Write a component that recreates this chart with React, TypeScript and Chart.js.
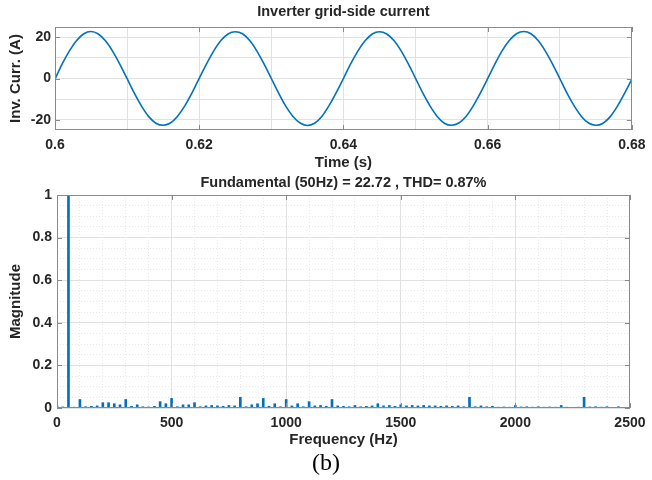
import React, { useEffect, useRef } from "react";
import { Chart, registerables } from "chart.js";

Chart.register(...registerables);

// ---------- Top plot data: inverter grid-side current ----------
const TIME_S = [
  0.600, 0.601, 0.602, 0.603, 0.604, 0.605, 0.606, 0.607, 0.608, 0.609,
  0.610, 0.611, 0.612, 0.613, 0.614, 0.615, 0.616, 0.617, 0.618, 0.619,
  0.620, 0.621, 0.622, 0.623, 0.624, 0.625, 0.626, 0.627, 0.628, 0.629,
  0.630, 0.631, 0.632, 0.633, 0.634, 0.635, 0.636, 0.637, 0.638, 0.639,
  0.640, 0.641, 0.642, 0.643, 0.644, 0.645, 0.646, 0.647, 0.648, 0.649,
  0.650, 0.651, 0.652, 0.653, 0.654, 0.655, 0.656, 0.657, 0.658, 0.659,
  0.660, 0.661, 0.662, 0.663, 0.664, 0.665, 0.666, 0.667, 0.668, 0.669,
  0.670, 0.671, 0.672, 0.673, 0.674, 0.675, 0.676, 0.677, 0.678, 0.679,
  0.680,
];
const CURRENT_A = [
  -0.3, 7.1, 13.4, 18.4, 21.7, 22.8, 21.6, 18.3, 13.2, 6.9,
  -0.1, -7.1, -13.4, -18.5, -21.7, -22.7, -21.6, -18.3, -13.3, -7.0,
  0.1, 7.0, 13.3, 18.4, 21.6, 22.7, 21.7, 18.4, 13.3, 7.0,
  0.0, -7.0, -13.4, -18.4, -21.6, -22.8, -21.7, -18.4, -13.2, -6.9,
  0.0, 7.1, 13.3, 18.3, 21.6, 22.7, 21.6, 18.4, 13.4, 7.1,
  0.1, -7.0, -13.3, -18.4, -21.7, -22.7, -21.6, -18.4, -13.3, -7.0,
  -0.1, 7.0, 13.4, 18.4, 21.7, 22.8, 21.7, 18.4, 13.3, 7.0,
  0.0, -7.1, -13.3, -18.4, -21.6, -22.7, -21.7, -18.5, -13.4, -7.1,
  -0.3,
];
const TIME_TICKS = [0.6, 0.61, 0.62, 0.63, 0.64, 0.65, 0.66, 0.67, 0.68];
const TIME_TICK_LABELS = ["0.6", "", "0.62", "", "0.64", "", "0.66", "", "0.68"];
const TIME_MAJOR = [0.6, 0.62, 0.64, 0.66, 0.68];
const CURRENT_TICKS = [-20, -10, 0, 10, 20];
const CURRENT_TICK_LABELS = ["-20", "", "0", "", "20"];
const CURRENT_MAJOR = [-20, 0, 20];

// ---------- Bottom plot data: FFT spectrum ----------
const FREQ_HZ = [
  0, 25, 50, 75, 100, 125, 150, 175, 200, 225,
  250, 275, 300, 325, 350, 375, 400, 425, 450, 475,
  500, 525, 550, 575, 600, 625, 650, 675, 700, 725,
  750, 775, 800, 825, 850, 875, 900, 925, 950, 975,
  1000, 1025, 1050, 1075, 1100, 1125, 1150, 1175, 1200, 1225,
  1250, 1275, 1300, 1325, 1350, 1375, 1400, 1425, 1450, 1475,
  1500, 1525, 1550, 1575, 1600, 1625, 1650, 1675, 1700, 1725,
  1750, 1775, 1800, 1825, 1850, 1875, 1900, 1925, 1950, 1975,
  2000, 2025, 2050, 2075, 2100, 2125, 2150, 2175, 2200, 2225,
  2250, 2275, 2300, 2325, 2350, 2375, 2400, 2425, 2450, 2475,
];
const MAGNITUDE = [
  0.010, 0.005, 1.000, 0.004, 0.040, 0.006, 0.008, 0.010, 0.025, 0.025,
  0.020, 0.015, 0.040, 0.008, 0.015, 0.006, 0.005, 0.008, 0.030, 0.020,
  0.045, 0.006, 0.015, 0.015, 0.025, 0.006, 0.010, 0.012, 0.010, 0.008,
  0.012, 0.010, 0.050, 0.006, 0.015, 0.020, 0.045, 0.008, 0.020, 0.006,
  0.040, 0.010, 0.020, 0.006, 0.030, 0.010, 0.012, 0.008, 0.040, 0.010,
  0.008, 0.006, 0.012, 0.006, 0.008, 0.010, 0.020, 0.010, 0.012, 0.008,
  0.015, 0.010, 0.012, 0.010, 0.012, 0.010, 0.010, 0.008, 0.010, 0.008,
  0.010, 0.006, 0.050, 0.006, 0.010, 0.006, 0.008, 0.004, 0.005, 0.004,
  0.012, 0.005, 0.006, 0.004, 0.006, 0.004, 0.005, 0.004, 0.012, 0.004,
  0.003, 0.004, 0.050, 0.005, 0.006, 0.004, 0.006, 0.003, 0.006, 0.002,
];
const FREQ_TICKS = [0, 500, 1000, 1500, 2000, 2500];
const FREQ_TICK_LABELS = ["0", "500", "1000", "1500", "2000", "2500"];
const FREQ_MINOR = [
  100, 200, 300, 400, 600, 700, 800, 900, 1100, 1200, 1300, 1400,
  1600, 1700, 1800, 1900, 2100, 2200, 2300, 2400,
];
const MAG_TICKS = [0, 0.2, 0.4, 0.6, 0.8, 1];
const MAG_TICK_LABELS = ["0", "0.2", "0.4", "0.6", "0.8", "1"];
const MAG_MINOR = [
  0.05, 0.1, 0.15, 0.25, 0.3, 0.35, 0.45, 0.5, 0.55, 0.65, 0.7, 0.75,
  0.85, 0.9, 0.95,
];

const FONT_FAMILY = '"Liberation Sans", Arial, Helvetica, sans-serif';
const TEXT_COLOR = "#262626";
const LINE_COLOR = "#0072BD";
const GRID_MAJOR = "#e1e1e1";
const GRID_MINOR = "#e8e8e8";
const BOX_COLOR = "#8a8a8a";

const labelFor = (ticks: number[], labels: string[]) => (v: number | string) => {
  const n = Number(v);
  const i = ticks.findIndex((t) => Math.abs(t - n) < 1e-9);
  return i >= 0 ? labels[i] : "";
};

const setTicks = (values: number[]) => (axis: any) => {
  axis.ticks = values.map((v) => ({ value: v }));
};

const boxPlugin = (xTicks: number[], yTicks: number[]) => ({
  id: "matlabBox",
  afterDatasetsDraw(chart: any) {
    const { ctx, chartArea: a, scales } = chart;
    ctx.save();
    ctx.strokeStyle = BOX_COLOR;
    ctx.lineWidth = 1;
    ctx.strokeRect(
      Math.round(a.left) + 0.5,
      Math.round(a.top) + 0.5,
      Math.round(a.right - a.left) - 1,
      Math.round(a.bottom - a.top) - 1
    );
    ctx.beginPath();
    for (const v of xTicks) {
      const px = Math.round(scales.x.getPixelForValue(v)) + 0.5;
      ctx.moveTo(px, a.bottom);
      ctx.lineTo(px, a.bottom - 5);
      ctx.moveTo(px, a.top);
      ctx.lineTo(px, a.top + 5);
    }
    for (const v of yTicks) {
      const py = Math.round(scales.y.getPixelForValue(v)) + 0.5;
      ctx.moveTo(a.left, py);
      ctx.lineTo(a.left + 5, py);
      ctx.moveTo(a.right, py);
      ctx.lineTo(a.right - 5, py);
    }
    ctx.stroke();
    ctx.restore();
  },
});

const tickFont = { family: FONT_FAMILY, size: 14, weight: "bold" as const };
const labelFont = { family: FONT_FAMILY, size: 15, weight: "bold" as const };
const titleFont = { family: FONT_FAMILY, size: 14.5, weight: "bold" as const };

export default function App() {
  const topRef = useRef<HTMLCanvasElement>(null);
  const botRef = useRef<HTMLCanvasElement>(null);

  useEffect(() => {
    Chart.defaults.font.family = FONT_FAMILY;
    Chart.defaults.color = TEXT_COLOR;

    const top = new Chart(topRef.current!, {
      type: "line",
      data: {
        datasets: [
          {
            data: TIME_S.map((t, i) => ({ x: t, y: CURRENT_A[i] })),
            borderColor: LINE_COLOR,
            borderWidth: 1.6,
            pointRadius: 0,
            cubicInterpolationMode: "monotone",
            fill: false,
          },
        ],
      },
      options: {
        responsive: false,
        animation: false,
        layout: { padding: { left: 0, right: 17, top: 0, bottom: 0 } },
        plugins: {
          legend: { display: false },
          tooltip: { enabled: false },
          title: {
            display: true,
            text: "Inverter grid-side current",
            font: titleFont,
            color: TEXT_COLOR,
            fullSize: false,
            padding: { top: 3.3, bottom: 6.3 },
          },
        },
        scales: {
          x: {
            type: "linear",
            min: 0.6,
            max: 0.68,
            afterBuildTicks: setTicks(TIME_TICKS),
            afterFit: (s: any) => {
              s.height = 45;
            },
            ticks: {
              callback: labelFor(TIME_TICKS, TIME_TICK_LABELS),
              font: tickFont,
              color: TEXT_COLOR,
              padding: 6.5,
              maxRotation: 0,
              autoSkip: false,
            },
            grid: { color: GRID_MAJOR, drawTicks: false },
            border: { display: false },
            title: {
              display: true,
              text: "Time (s)",
              font: labelFont,
              color: TEXT_COLOR,
              padding: { top: 0, bottom: 3 },
            },
          },
          y: {
            type: "linear",
            min: -25,
            max: 25,
            afterBuildTicks: setTicks(CURRENT_TICKS),
            afterFit: (s: any) => {
              s.width = 55;
            },
            ticks: {
              callback: labelFor(CURRENT_TICKS, CURRENT_TICK_LABELS),
              font: tickFont,
              color: TEXT_COLOR,
              padding: 4,
              autoSkip: false,
            },
            grid: { color: GRID_MAJOR, drawTicks: false },
            border: { display: false },
            title: {
              display: true,
              text: "Inv. Curr. (A)",
              font: labelFont,
              color: TEXT_COLOR,
              padding: { top: 7, bottom: 0 },
            },
          },
        },
      },
      plugins: [boxPlugin(TIME_MAJOR, CURRENT_MAJOR)],
    } as any);

    const bot = new Chart(botRef.current!, {
      type: "bar",
      data: {
        datasets: [
          {
            data: FREQ_HZ.map((f, i) => ({ x: f, y: MAGNITUDE[i] })),
            backgroundColor: LINE_COLOR,
            borderWidth: 0,
            barThickness: 2,
          },
        ],
      },
      options: {
        responsive: false,
        animation: false,
        layout: { padding: { left: 0, right: 19, top: 0, bottom: 0 } },
        plugins: {
          legend: { display: false },
          tooltip: { enabled: false },
          title: {
            display: true,
            text: "Fundamental (50Hz) = 22.72 , THD= 0.87%",
            font: titleFont,
            color: TEXT_COLOR,
            fullSize: false,
            padding: { top: 2.3, bottom: 3.3 },
          },
        },
        scales: {
          xMinor: {
            type: "linear",
            position: "bottom",
            min: 0,
            max: 2500,
            offset: false,
            afterBuildTicks: setTicks(FREQ_MINOR),
            ticks: { display: false },
            grid: { color: GRID_MINOR, drawTicks: false, offset: false },
            border: { display: false, dash: [1, 2] },
          },
          yMinor: {
            type: "linear",
            position: "left",
            min: 0,
            max: 1,
            afterBuildTicks: setTicks(MAG_MINOR),
            ticks: { display: false },
            grid: { color: GRID_MINOR, drawTicks: false },
            border: { display: false, dash: [1, 2] },
          },
          x: {
            type: "linear",
            position: "bottom",
            min: 0,
            max: 2500,
            offset: false,
            afterBuildTicks: setTicks(FREQ_TICKS),
            afterFit: (s: any) => {
              s.height = 42;
            },
            ticks: {
              callback: labelFor(FREQ_TICKS, FREQ_TICK_LABELS),
              font: tickFont,
              color: TEXT_COLOR,
              padding: 6.5,
              maxRotation: 0,
              autoSkip: false,
            },
            grid: { color: GRID_MAJOR, drawTicks: false, offset: false },
            border: { display: false },
            title: {
              display: true,
              text: "Frequency (Hz)",
              font: labelFont,
              color: TEXT_COLOR,
              padding: { top: 0, bottom: 1 },
            },
          },
          y: {
            type: "linear",
            position: "left",
            min: 0,
            max: 1,
            afterBuildTicks: setTicks(MAG_TICKS),
            afterFit: (s: any) => {
              s.width = 57;
            },
            ticks: {
              callback: labelFor(MAG_TICKS, MAG_TICK_LABELS),
              font: tickFont,
              color: TEXT_COLOR,
              padding: 5,
              autoSkip: false,
            },
            grid: { color: GRID_MAJOR, drawTicks: false },
            border: { display: false },
            title: {
              display: true,
              text: "Magnitude",
              font: labelFont,
              color: TEXT_COLOR,
              padding: { top: 7, bottom: 0 },
            },
          },
        },
      },
      plugins: [boxPlugin(FREQ_TICKS, MAG_TICKS)],
    } as any);

    return () => {
      top.destroy();
      bot.destroy();
    };
  }, []);

  return (
    <div
      style={{
        position: "fixed",
        left: 0,
        top: 0,
        width: 652,
        height: 480,
        background: "#ffffff",
        overflow: "hidden",
      }}
    >
      <canvas
        ref={topRef}
        width={652}
        height={175}
        style={{ position: "absolute", left: 0, top: 0 }}
      />
      <canvas
        ref={botRef}
        width={652}
        height={278}
        style={{ position: "absolute", left: 0, top: 172 }}
      />
      <div
        style={{
          position: "absolute",
          left: 0,
          top: 448,
          width: 652,
          textAlign: "center",
          fontFamily: '"Liberation Serif", "Times New Roman", serif',
          fontSize: 24,
          lineHeight: "28px",
          color: "#000000",
        }}
      >
        (b)
      </div>
    </div>
  );
}
